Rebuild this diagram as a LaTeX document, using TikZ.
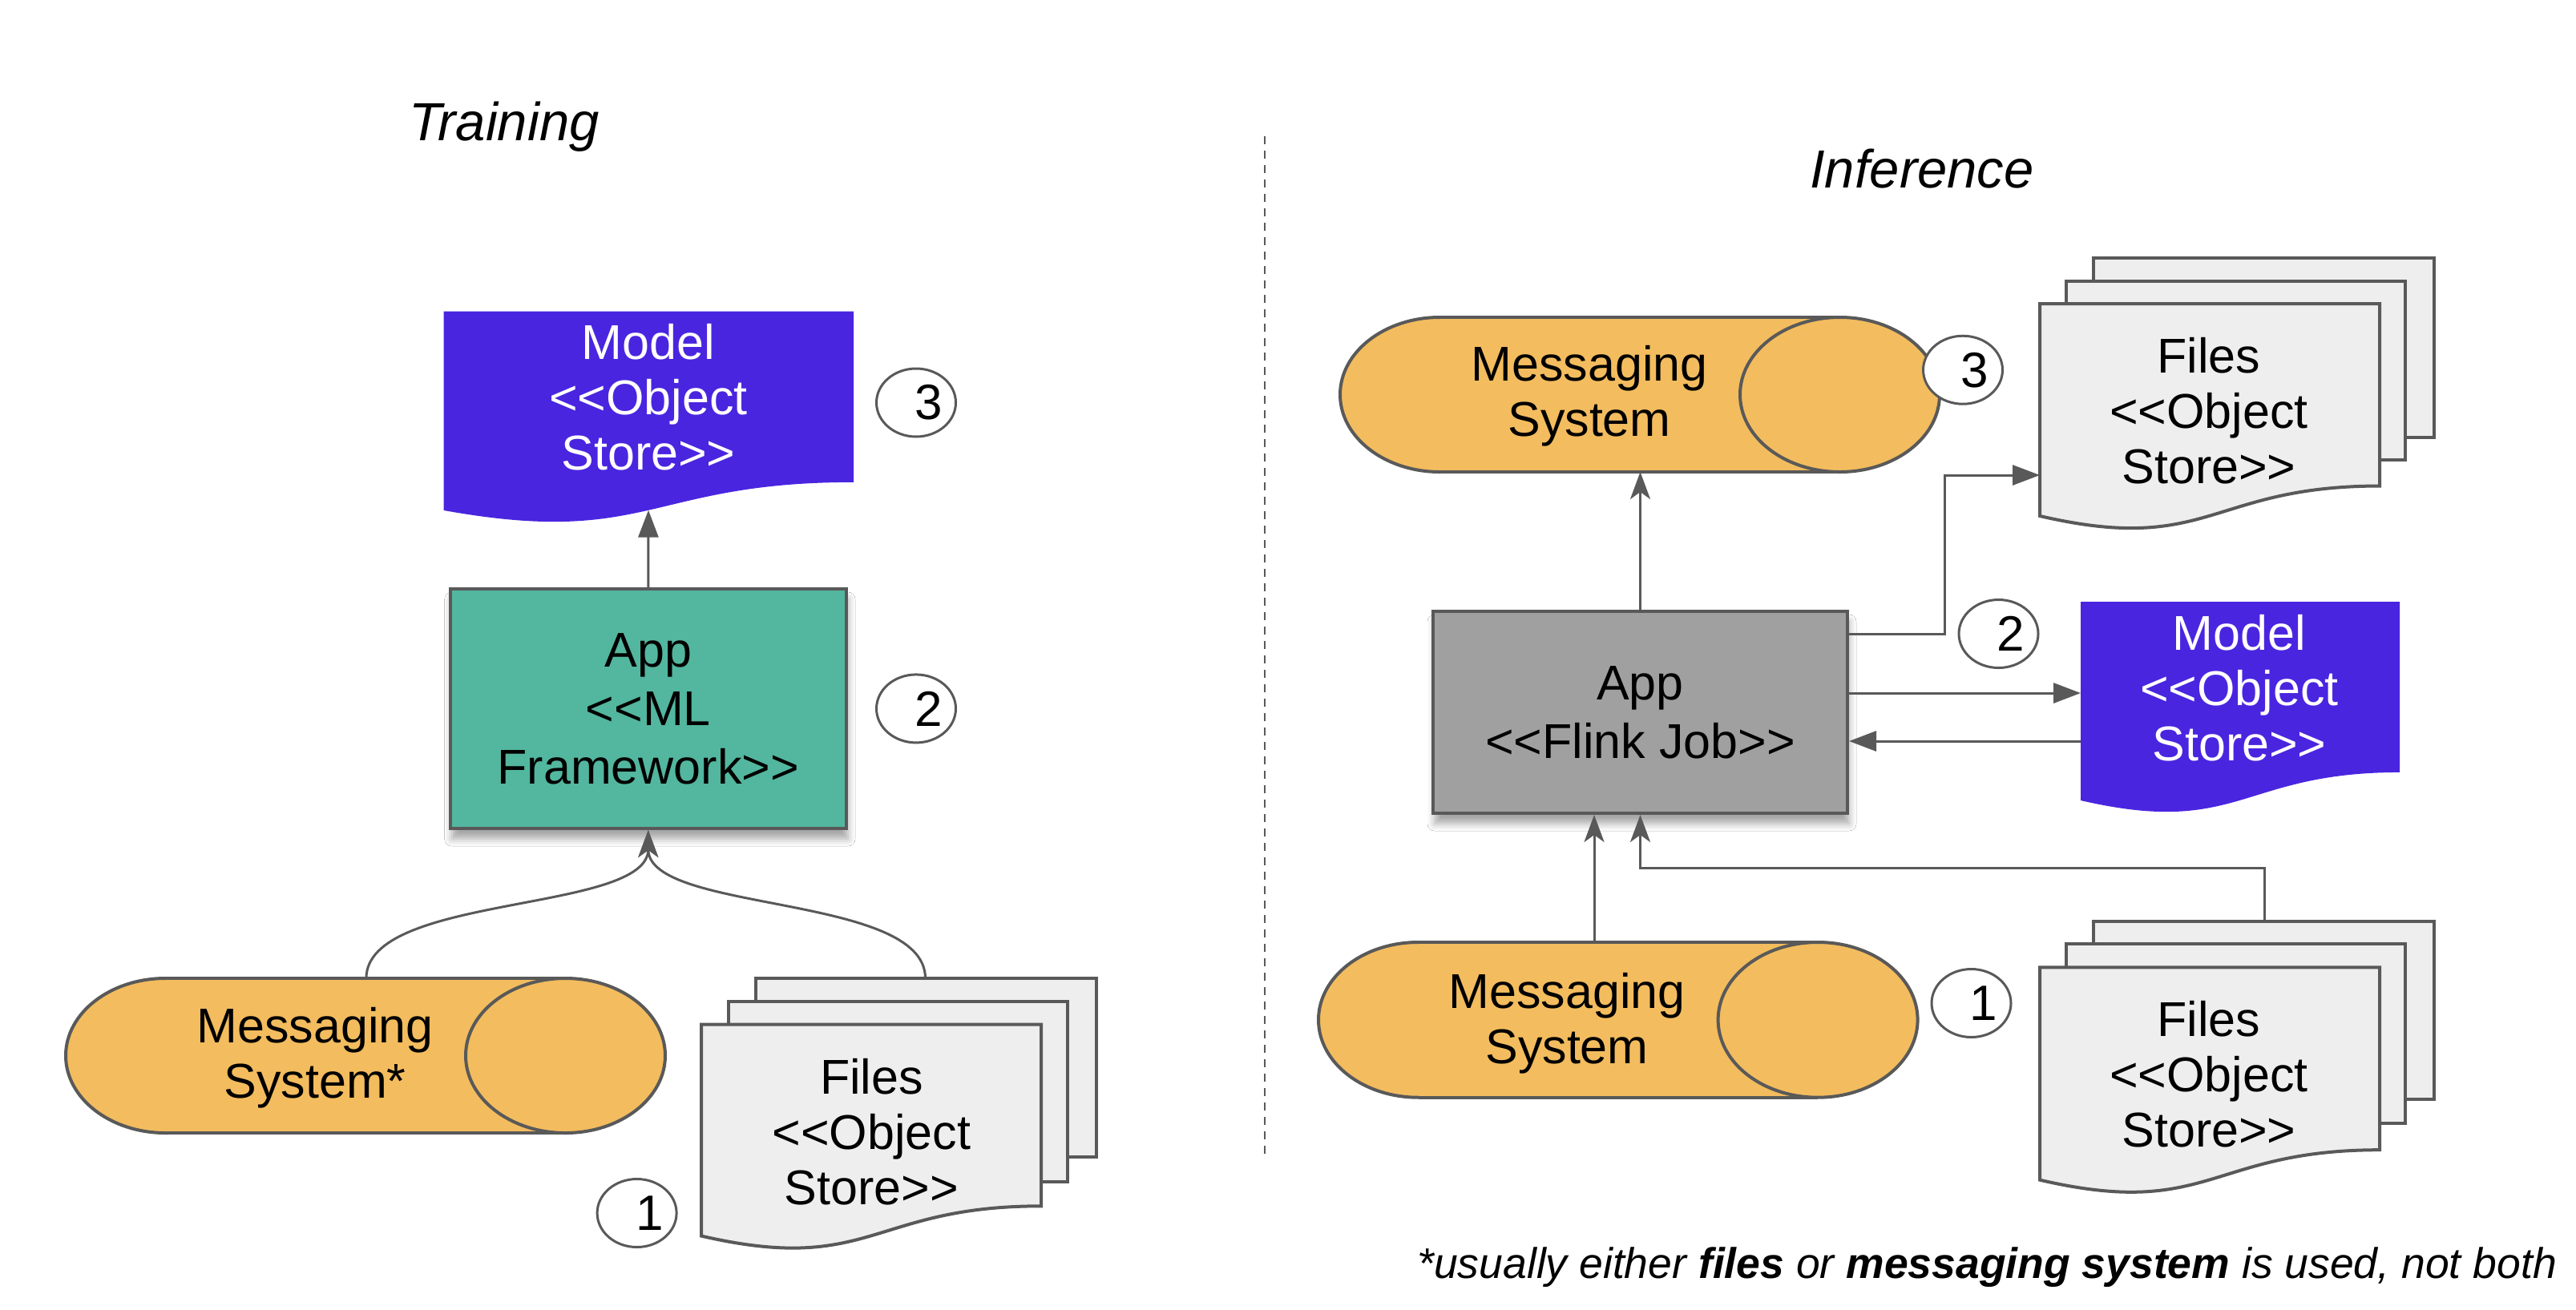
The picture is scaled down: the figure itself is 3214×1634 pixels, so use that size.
\documentclass[tikz,border=0pt]{standalone}
\usepackage{fontspec}
\setmainfont{Liberation Sans}[Ligatures=TeXOff]
\usetikzlibrary{arrows.meta,shapes.geometric,shadows.blur}
\definecolor{lc}{RGB}{89,89,89}
\definecolor{blueM}{RGB}{74,37,224}
\definecolor{tealA}{RGB}{83,182,159}
\definecolor{orangeM}{RGB}{243,188,94}
\definecolor{grayA}{RGB}{160,160,160}
\definecolor{fileF}{RGB}{238,238,238}
\tikzset{
  txt/.style={align=center, font=\fontsize{61}{69}\selectfont, inner sep=0pt},
  num/.style={ellipse, draw=lc, line width=3pt, fill=white, minimum width=99pt, minimum height=85pt, inner sep=0pt, font=\fontsize{62}{71}\selectfont},
  conn/.style={draw=lc, line width=3pt},
  tri/.style={-{Triangle[length=34pt,width=25pt]}},
  stl/.style={-{Stealth[length=34pt,width=25pt,inset=9pt]}},
  shapeline/.style={draw=lc, line width=4pt},
  appbox/.style={rectangle, draw=lc, line width=4pt, inner sep=0pt, align=center, font=\fontsize{61}{73}\selectfont,
    blur shadow={shadow xshift=2pt, shadow yshift=-13pt, shadow blur radius=9pt, shadow opacity=35}},
  title/.style={font=\fontsize{67}{75}\selectfont\itshape, inner sep=0pt}
}
% document shape: x0, y0, w, h, fill
\newcommand\mydoc[5]{%
  \path[#5] (#1,#2) -- ({#1+#3},#2) -- ({#1+#3},{#2+0.802*#4})
    .. controls ({#1+0.5*#3},{#2+0.802*#4}) and ({#1+0.5*#3},{#2+1.1075*#4}) .. (#1,{#2+0.934*#4}) -- cycle;}
% cylinder: left, top, right, bottom
\newcommand\mycyl[4]{%
  \pgfmathsetmacro\myCy{(#2+#4)/2}\pgfmathsetmacro\myRy{(#4-#2)/2}%
  \pgfmathsetmacro\myXl{#1+124.5}\pgfmathsetmacro\myXr{#3-124.5}%
  \path[shapeline, fill=orangeM] (\myXl,\myCy) ellipse [x radius=124.5, y radius=\myRy];
  \fill[orangeM] (\myXl,#2) rectangle (\myXr,#4);
  \draw[lc, line width=4pt] (\myXl,#2) -- (\myXr,#2) (\myXl,#4) -- (\myXr,#4);
  \path[shapeline, fill=orangeM] (\myXr,\myCy) ellipse [x radius=124.5, y radius=\myRy];}
\newcommand\mypage[4]{\path[shapeline, fill=fileF] (#1,#2) rectangle (#3,#4);}
\begin{document}
\begin{tikzpicture}[x=1pt, y=-1pt]
\useasboundingbox[fill=white] (0,0) rectangle (3214,1634);

% ---------------- Training ----------------
\node[title] (trainT) at (629,158) {Training};

\mydoc{553.6}{388.5}{511.4}{266}{fill=blueM}
\node[txt, text=white] (modelL) at (809,496) {Model\\<<Object\\Store>>};
\coordinate (modelLB) at (809,636.7);

\node[appbox, fill=tealA, minimum width=494.4pt, minimum height=299pt] (appL) at (808.8,884.5) {App\\<<ML\\Framework>>};

\mycyl{82}{1221}{830}{1414}
\node[txt] (msgL) at (393,1320) {Messaging\\System*};
\coordinate (msgLT) at (457,1221);

\mypage{943}{1221}{1368}{1444}
\mypage{909}{1250}{1332}{1474.6}
\mydoc{875}{1278.7}{424}{282.5}{shapeline, fill=fileF}
\node[txt] (filesL) at (1087.5,1412.5) {Files\\<<Object\\Store>>};
\coordinate (filesLT) at (1154.5,1221);

\node[num] (nL3) at (1143,502.5) {\hspace*{32pt}3};
\node[num] (nL2) at (1143,884.4) {\hspace*{32pt}2};
\node[num] (nL1) at (794.6,1514) {\hspace*{32pt}1};

\draw[conn, tri] (appL.north) -- (modelLB);
\draw[conn, stl] (msgLT) .. controls (457,1115) and (808.8,1140) .. (appL.south);
\draw[conn, stl] (filesLT) .. controls (1154.5,1115) and (808.8,1140) .. (appL.south);

% divider
\coordinate (divT) at (1578,170);
\coordinate (divB) at (1578,1441);
\draw[lc, line width=2.5pt, dash pattern=on 10pt off 8pt] (divT) -- (divB);

% ---------------- Inference ----------------
\node[title] (infT) at (2398,211) {Inference};

\mycyl{1672}{396}{2420}{589}
\node[txt] (msgRT) at (1983,494) {Messaging\\System};
\coordinate (msgRTB) at (2046.5,589);

\mypage{2612}{322.4}{3037}{546}
\mypage{2578}{350.5}{3001}{574}
\mydoc{2545}{379}{424}{283.7}{shapeline, fill=fileF}
\node[txt] (filesRT) at (2756,513) {Files\\<<Object\\Store>>};
\coordinate (filesRTin) at (2545,593);

\node[appbox, fill=grayA, minimum width=517pt, minimum height=252pt] (appR) at (2046.5,889) {App\\<<Flink Job>>};

\mydoc{2596}{751}{398}{265.5}{fill=blueM}
\node[txt, text=white] (modelR) at (2794,858.5) {Model\\<<Object\\Store>>};
\coordinate (mIn) at (2596,865);
\coordinate (mOut) at (2596,925);

\mycyl{1645}{1176}{2392.6}{1369.7}
\node[txt] (msgRB) at (1955,1277) {Messaging\\System};
\coordinate (msgRBT) at (1989,1176);

\mypage{2612}{1150}{3037}{1372}
\mypage{2578}{1177.7}{3001}{1401.6}
\mydoc{2545}{1207.4}{424}{284}{shapeline, fill=fileF}
\node[txt] (filesRB) at (2756,1340.5) {Files\\<<Object\\Store>>};
\coordinate (filesRBT) at (2825,1150);
\coordinate (joinY) at (2825,1083);

\node[num] (nR3) at (2449,461.7) {\hspace*{30pt}3};
\node[num] (nR2) at (2493.5,791) {\hspace*{30pt}2};
\node[num] (nR1) at (2459.5,1252) {\hspace*{30pt}1};

\coordinate (outY) at (2426.6,791);
\draw[conn, stl] (appR.north) -- (msgRTB);
\draw[conn, tri] (appR.east |- outY) -- (outY) |- (filesRTin);
\draw[conn, tri] (mIn -| appR.east) -- (mIn);
\draw[conn, tri] (mOut) -- (mOut -| appR.east);
\draw[conn, stl] (msgRBT) -- (msgRBT |- appR.south);
\draw[conn, stl] (filesRBT) -- (joinY) -- (joinY -| appR.south) -- (appR.south);

\node[anchor=base east, inner sep=0pt, font=\fontsize{53.5}{60}\selectfont\itshape] (note) at (3190,1595)
  {*usually either \textbf{files} or \textbf{messaging system} is used, not both};
\end{tikzpicture}
\end{document}
